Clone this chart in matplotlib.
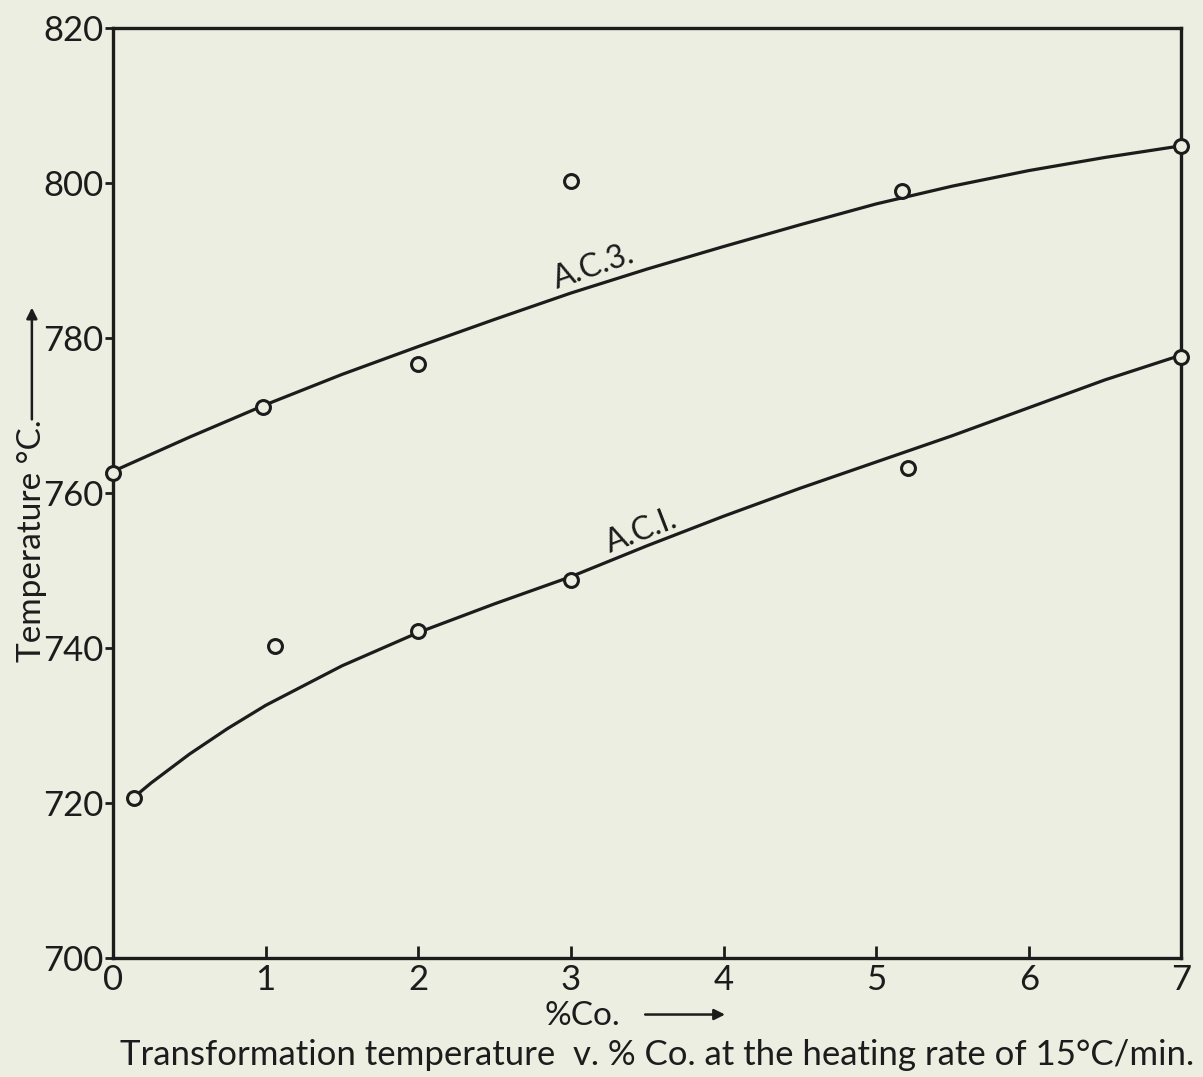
import numpy as np
import matplotlib
matplotlib.use("Agg")
import matplotlib.pyplot as plt

# measured points (open circles)
ac3_x = [0.0, 0.98, 2.0, 3.0, 5.17, 7.0]
ac3_y = [762.6, 771.1, 776.6, 800.3, 799.0, 804.8]
ac1_x = [0.14, 1.06, 2.0, 3.0, 5.21, 7.0]
ac1_y = [720.6, 740.2, 742.2, 748.8, 763.2, 777.6]

# hand-drawn curves
ac3_curve_x = [0, 0.5, 1, 1.5, 2, 2.5, 3, 3.5, 4, 4.5, 5, 5.5, 6, 6.5, 7]
ac3_curve_y = [762.8, 767.2, 771.4, 775.3, 778.9, 782.4, 785.8, 788.9, 791.8,
               794.6, 797.3, 799.6, 801.6, 803.3, 804.8]
ac1_curve_x = [0.14, 0.25, 0.5, 0.75, 1, 1.5, 2, 2.5, 3, 3.5, 4, 4.5, 5, 5.5,
               6, 6.5, 7]
ac1_curve_y = [720.8, 722.6, 726.3, 729.6, 732.6, 737.7, 742.0, 745.7, 749.2,
               753.2, 757.0, 760.6, 764.0, 767.4, 771.0, 774.6, 777.8]

x_ticks = [0, 1, 2, 3, 4, 5, 6, 7]
y_ticks = [700, 720, 740, 760, 780, 800, 820]

bg = '#ebeee0'
ink = '#1c1c1c'
plt.rcParams['font.family'] = ['Lato', 'DejaVu Sans']

fig = plt.figure(figsize=(12.03, 10.77), dpi=100, facecolor=bg)
ax = fig.add_axes([0.094, 0.1105, 0.888, 0.8635], facecolor=bg)

ax.plot(ac3_curve_x, ac3_curve_y, color=ink, lw=2.3, zorder=2)
ax.plot(ac1_curve_x, ac1_curve_y, color=ink, lw=2.3, zorder=2)
for xs, ys in [(ac3_x, ac3_y), (ac1_x, ac1_y)]:
    ax.plot(xs, ys, 'o', ms=10, mfc=bg, mec=ink, mew=2.2, zorder=4,
            clip_on=False)

ax.text(3.18, 787.3, 'A.C.3.', fontsize=23, color=ink, rotation=19,
        ha='center', va='bottom', rotation_mode='anchor')
ax.text(3.5, 753.2, 'A.C.I.', fontsize=23, color=ink, rotation=21,
        ha='center', va='bottom', rotation_mode='anchor')

ax.set_xlim(0, 7)
ax.set_ylim(700, 820)
ax.set_xticks(x_ticks)
ax.set_yticks(y_ticks)
ax.set_xticklabels([str(t) for t in x_ticks])
ax.set_yticklabels([str(t) for t in y_ticks])
ax.tick_params(axis='x', direction='in', length=9, width=2, color=ink,
               labelsize=25, labelcolor=ink, pad=4)
ax.tick_params(axis='y', direction='out', length=6, width=2, color=ink,
               labelsize=25, labelcolor=ink, pad=1)
for s in ax.spines.values():
    s.set_color(ink)
    s.set_linewidth(2.4)

# axis labels with hand-drawn arrows
fig.text(0.0265, 0.385, 'Temperature °C.', rotation=90, fontsize=24,
         color=ink, ha='center', va='bottom')
ax.annotate('', xy=(0.0265, 0.717), xytext=(0.0265, 0.608),
            xycoords='figure fraction',
            arrowprops=dict(arrowstyle='-|>', color=ink, lw=1.8,
                            mutation_scale=16))
fig.text(0.453, 0.043, '%Co.', fontsize=24, color=ink, ha='left',
         va='bottom')
ax.annotate('', xy=(0.605, 0.058), xytext=(0.534, 0.058),
            xycoords='figure fraction',
            arrowprops=dict(arrowstyle='-|>', color=ink, lw=1.8,
                            mutation_scale=16))
fig.text(0.1, 0.006,
         'Transformation temperature  v. % Co. at the heating rate of 15°C/min.',
         fontsize=25, color=ink, ha='left', va='bottom')

fig.savefig('out.png', dpi=100, facecolor=bg)
